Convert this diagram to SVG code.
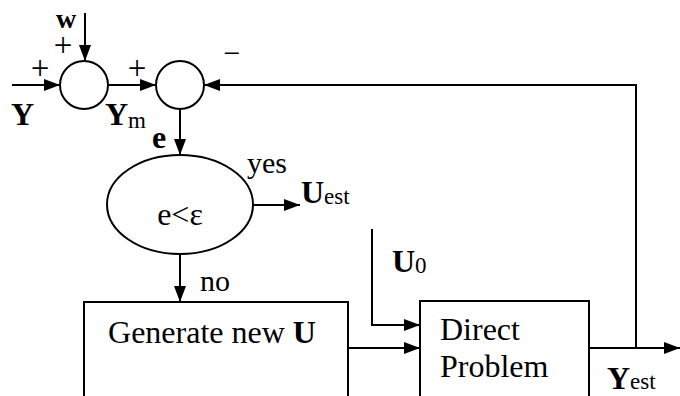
<svg xmlns="http://www.w3.org/2000/svg" width="680" height="396" viewBox="0 0 680 396">
<style>
.ln{stroke:#000;stroke-width:2;fill:none}
.sh{stroke:#000;stroke-width:2;fill:#fff}
text{font-family:"Liberation Serif","Times New Roman",serif;fill:#000}
.b{font-weight:bold}
.t{font-size:32px}
.p{font-size:30px}
.w{font-size:28px}
.pl{font-size:33px}
.s{font-size:23px;font-weight:normal}
</style>
<defs>
<marker id="ah" markerUnits="userSpaceOnUse" markerWidth="16" markerHeight="12" refX="16" refY="6" orient="auto">
<path d="M0,0 L16,6 L0,12 z" fill="#000"/>
</marker>
</defs>
<g id="connectors">
<line class="ln" x1="12" y1="85" x2="60" y2="85" marker-end="url(#ah)"/>
<line class="ln" x1="85" y1="13" x2="85" y2="61" marker-end="url(#ah)"/>
<line class="ln" x1="108" y1="85" x2="156" y2="85" marker-end="url(#ah)"/>
<polyline class="ln" points="636,348 636,85 204,85" marker-end="url(#ah)"/>
<line class="ln" x1="180" y1="109" x2="180" y2="155" marker-end="url(#ah)"/>
<line class="ln" x1="253" y1="205" x2="300" y2="205" marker-end="url(#ah)"/>
<line class="ln" x1="180" y1="254" x2="180" y2="302" marker-end="url(#ah)"/>
<polyline class="ln" points="372,229 372,325 420,325" marker-end="url(#ah)"/>
<line class="ln" x1="348" y1="348" x2="420" y2="348" marker-end="url(#ah)"/>
<line class="ln" x1="589" y1="348" x2="680" y2="348" marker-end="url(#ah)"/>
</g>
<g id="sum1">
<circle class="sh" cx="84" cy="85" r="24"/>
</g>
<g id="sum2">
<circle class="sh" cx="180" cy="85" r="24"/>
</g>
<g id="decision">
<ellipse class="sh" cx="180" cy="204.5" rx="73" ry="49.5"/>
<text class="t" x="180" y="225" text-anchor="middle">e&lt;ε</text>
</g>
<g id="generate">
<rect class="sh" x="84" y="302" width="264" height="120"/>
<text class="t" x="212" y="343" text-anchor="middle">Generate new <tspan class="b">U</tspan></text>
</g>
<g id="direct">
<rect class="sh" x="420" y="301" width="169" height="120"/>
<text class="t" x="440" y="340">Direct</text>
<text class="t" x="440" y="377">Problem</text>
</g>
<g id="labels">
<text class="w b" x="56" y="28">w</text>
<text class="pl" x="63" y="56" text-anchor="middle">+</text>
<text class="pl" x="40" y="79" text-anchor="middle">+</text>
<text class="pl" x="137" y="79" text-anchor="middle">+</text>
<text class="p" x="232" y="63" text-anchor="middle">−</text>
<text class="t b" x="11" y="125">Y</text>
<text class="t b" x="105" y="125">Y<tspan class="s" dy="3">m</tspan></text>
<text class="t b" x="152" y="148">e</text>
<text class="p" x="247" y="173">yes</text>
<text class="t b" x="301" y="203">U<tspan class="s" dy="1">est</tspan></text>
<text class="p" x="200" y="291">no</text>
<text class="t b" x="392" y="272">U<tspan class="s" dy="1">0</tspan></text>
<text class="t b" x="607" y="389">Y<tspan class="s">est</tspan></text>
</g>
</svg>
